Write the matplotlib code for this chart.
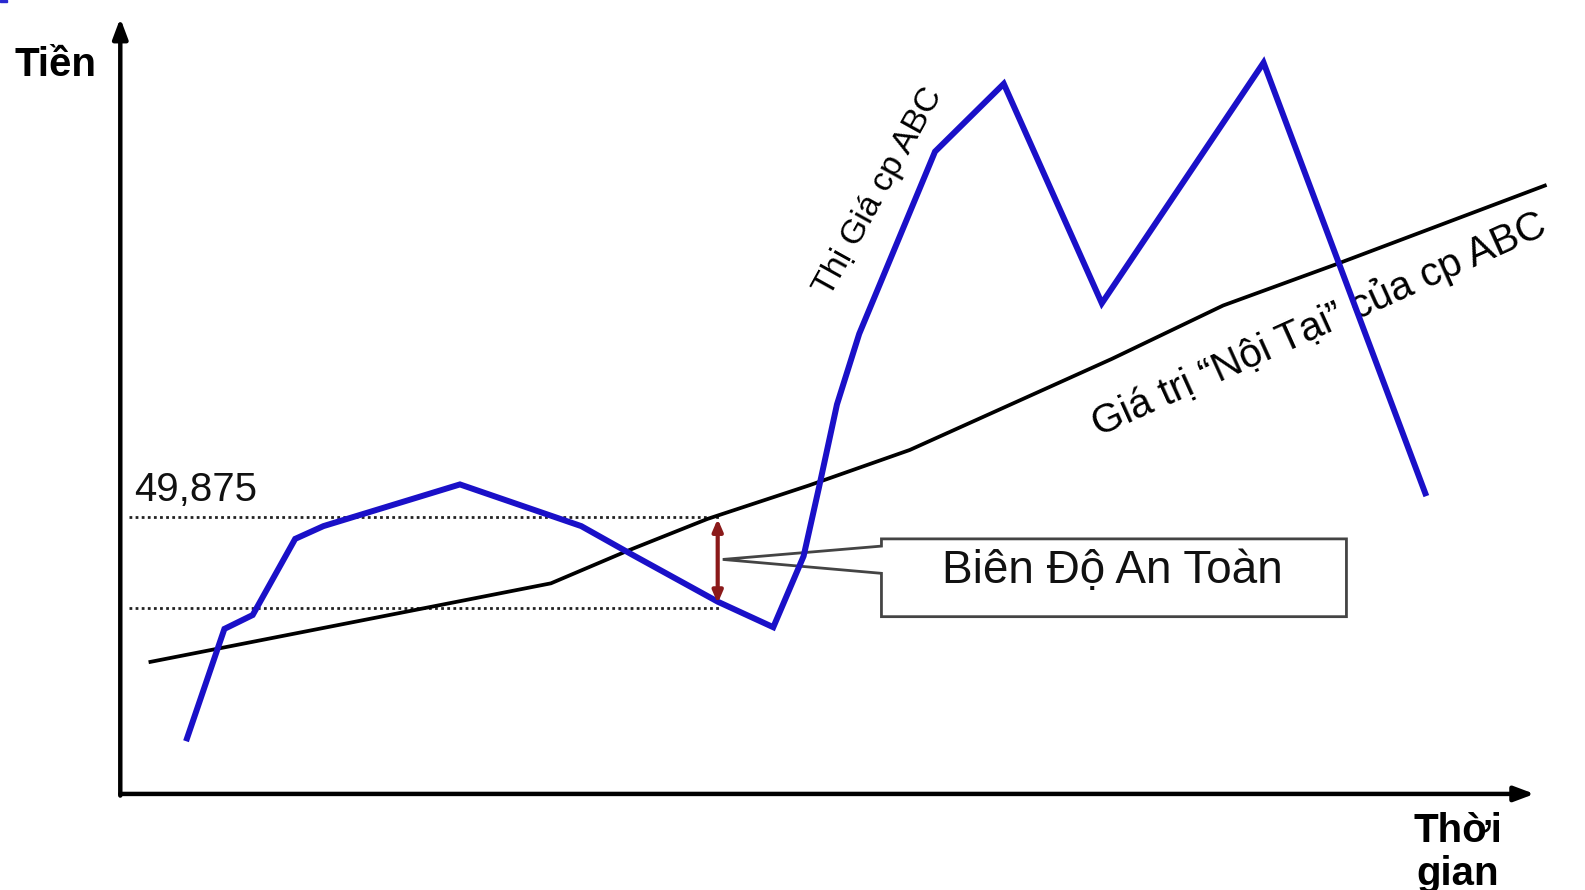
import matplotlib.pyplot as plt
from matplotlib.patches import Polygon, Rectangle

# thoi gian (x) va tien (y, nghin dong)
gia_x = [6.6, 10.3, 13.1, 17.3, 20.1, 33.6, 45.6, 50.6, 59.1, 64.6, 67.6, 69.1, 70.9, 73.1,
         80.6, 87.4, 97.1, 113.1, 129.1]
gia_y = [10.0, 29.7, 32.2, 45.9, 48.2, 55.7, 48.2, 43.1, 34.6, 30.0, 42.8, 55.0, 70.1, 82.8,
         115.6, 127.8, 88.3, 131.6, 54.1]

noitai_x = [2.8, 42.6, 50.1, 58.1, 68.1, 78.1, 88.1, 98.1, 109.1, 120.1, 141.1]
noitai_y = [23.7, 37.9, 43.7, 49.5, 55.5, 61.9, 70.1, 78.3, 87.9, 95.2, 109.6]

muc_tren = 49.875
muc_duoi = 33.5
bien_do = [49.5, 34.3]   # dau mui ten do
x_bien_do = 59.1

plt.rcParams['font.family'] = ['Liberation Sans', 'DejaVu Sans']

fig = plt.figure(figsize=(15.85, 8.9), dpi=100)
ax = fig.add_axes([0, 0, 1, 1])
ax.set_xlim(-11.9, 144.9)
ax.set_ylim(-17.29, 142.88)
ax.axis('off')

# truc
ax.annotate('', xy=(139.9, 0), xytext=(0, 0),
            arrowprops=dict(arrowstyle='-|>,head_length=1.2,head_width=0.45', lw=3.2, color='black',
                            shrinkA=0, shrinkB=0))
ax.annotate('', xy=(0, 139.6), xytext=(0, -0.3),
            arrowprops=dict(arrowstyle='-|>,head_length=1.2,head_width=0.45', lw=3.2, color='black',
                            shrinkA=0, shrinkB=0))

# duong cham
ax.plot([0.9, 59.3], [muc_tren, muc_tren], ls=(0, (1, 1.2)), color='#222222', lw=2)
ax.plot([0.9, 59.3], [muc_duoi, muc_duoi], ls=(0, (1, 1.2)), color='#222222', lw=2)

ax.plot(noitai_x, noitai_y, color='black', lw=2.7, solid_capstyle='butt')
ax.plot(gia_x, gia_y, color='#1a10c8', lw=4.3, solid_joinstyle='miter')

# bien do an toan
ax.annotate('', xy=(x_bien_do, bien_do[0]), xytext=(x_bien_do, bien_do[1]),
            arrowprops=dict(arrowstyle='<|-|>,head_length=0.7,head_width=0.3', lw=3,
                            color='#8b1a1a', shrinkA=0, shrinkB=0))

callout = Polygon([(75.3, 45.9), (121.3, 45.9), (121.3, 31.9), (75.3, 31.9), (75.3, 39.7),
                   (59.6, 42.2), (75.3, 44.6)], closed=True, facecolor='white',
                  edgecolor='#444444', lw=2, zorder=1)
ax.add_patch(callout)
ax.text(98.1, 40.2, 'Biên Độ An Toàn', fontsize=33, ha='center', va='center', color='#111111')

# nhan
ax.text(-10.5, 131.2, 'Tiền', fontsize=29, fontweight='bold', ha='left', va='center')
ax.text(132.3, -10.5, 'Thời\ngian', fontsize=29, fontweight='bold', ha='center', va='center',
        linespacing=1.15)
ax.text(1.4, 52.8, '49,875', fontsize=29, ha='left', va='baseline', color='#111111')
ax.text(75.0, 108.3, 'Thị Giá cp ABC', fontsize=24.5, rotation=61, rotation_mode='anchor',
        ha='center', va='center', zorder=1)
ax.text(118.6, 84.6, 'Giá trị “Nội Tại” của cp ABC', fontsize=29, rotation=24.3,
        rotation_mode='anchor', ha='center', va='center', zorder=1)

fig.patches.append(Rectangle((0, 888), 7, 2, transform=None, color='#2a2ad0'))

fig.savefig('out.png', dpi=100)
